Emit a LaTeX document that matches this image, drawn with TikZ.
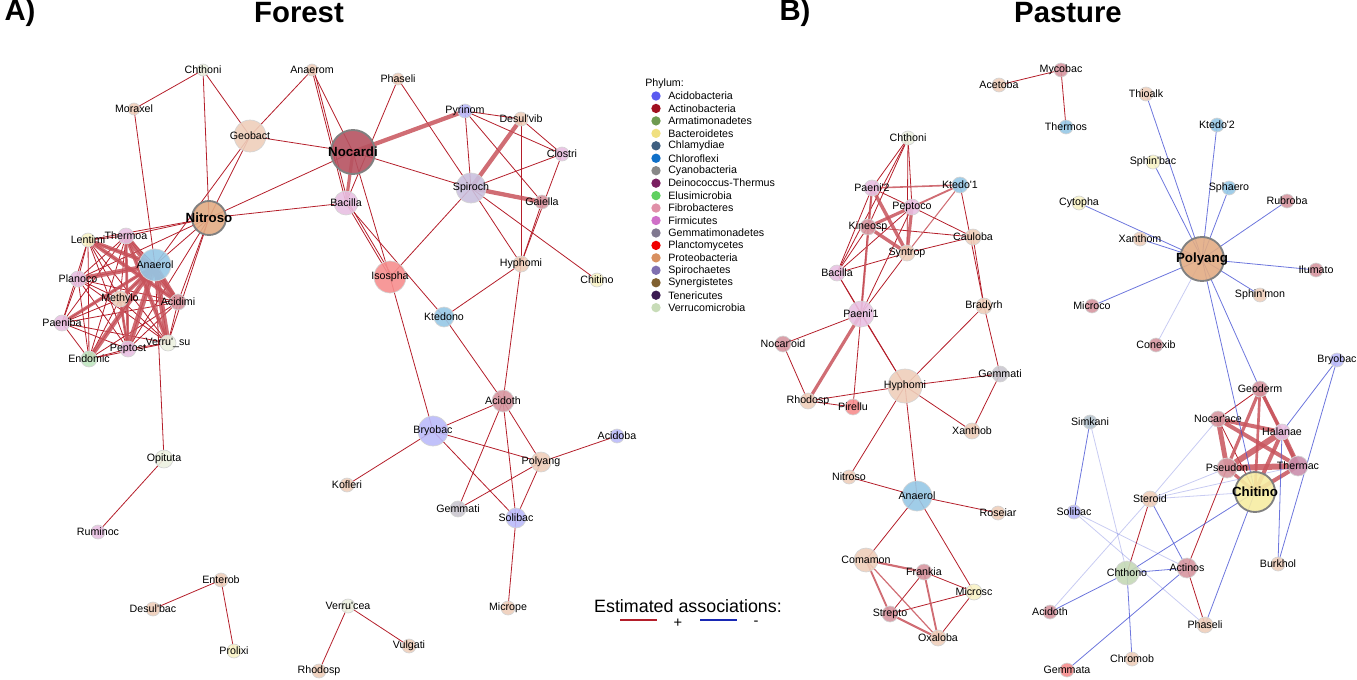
\documentclass[tikz,border=0pt]{standalone}
\usepackage{fontspec}
\setmainfont{Liberation Sans}
\pgfdeclarelayer{bg}
\pgfsetlayers{bg,main}
\newcommand{\ap}{\textquotesingle}
% node fills (light, per phylum)
\definecolor{cProteo}{RGB}{238,206,186}
\definecolor{cActino}{RGB}{214,150,160}
\definecolor{cAcido}{RGB}{186,186,250}
\definecolor{cChloro}{RGB}{150,200,230}
\definecolor{cFirmi}{RGB}{232,192,226}
\definecolor{cVerru}{RGB}{236,241,224}
\definecolor{cBactero}{RGB}{248,243,198}
\definecolor{cPlancto}{RGB}{246,142,142}
\definecolor{cGemma}{RGB}{202,199,207}
\definecolor{cSpiro}{RGB}{202,192,222}
\definecolor{cElusi}{RGB}{192,230,192}
\definecolor{cArmati}{RGB}{196,216,182}
\definecolor{cChlamy}{RGB}{182,196,206}
\definecolor{cDeino}{RGB}{202,142,172}
\definecolor{cBigProteo}{RGB}{226,172,132}
\definecolor{cBigActino}{RGB}{182,82,96}
\definecolor{cBigBactero}{RGB}{246,236,162}
% edges
\definecolor{ePos}{RGB}{180,30,42}
\definecolor{eThick}{RGB}{200,84,92}
\definecolor{eNeg}{RGB}{72,84,212}
\definecolor{eLegNeg}{RGB}{24,40,180}
\definecolor{ndline}{RGB}{212,212,212}
\definecolor{bigline}{RGB}{128,128,128}
\newcommand{\tx}[6]{\node[nd=#4,#5] (#1) at (#2,#3) {}; \node[lbl] at (#1.center) {#6};}
\newcommand{\txb}[6]{\node[nd=#4,big,#5] (#1) at (#2,#3) {}; \node[lbl,font=\fontsize{10}{12}\selectfont\bfseries] at (#1.center) {#6};}
\begin{document}
\begin{tikzpicture}[x=0.75pt,y=0.75pt,yscale=-1,xscale=1,
  nd/.style={circle,draw=ndline,line width=0.5pt,inner sep=0pt,fill opacity=0.9,minimum size={1.5pt*#1}},
  big/.style={draw=bigline,line width=1.4pt},
  lbl/.style={inner sep=0pt,font=\fontsize{8}{9}\selectfont},
  plink/.style={draw=ePos,line width=0.6pt},
  pwide/.style={draw=eThick,line width=#1,opacity=0.85},
  nlink/.style={draw=eNeg,line width=0.6pt,opacity=0.8},
  nlight/.style={draw=eNeg,line width=0.6pt,opacity=0.3}]
\useasboundingbox (0,0) rectangle (1357,679);

% Titles
\node[font=\fontsize{22}{26}\selectfont\bfseries] at (20,13) {A)};
\node[font=\fontsize{22}{26}\selectfont\bfseries] at (299,13) {Forest};
\node[font=\fontsize{22}{26}\selectfont\bfseries] at (795,13) {B)};
\node[font=\fontsize{22}{26}\selectfont\bfseries] at (1068,13) {Pasture};

%Forest nodes
\tx{fChthoni}{203}{70}{6}{fill=cVerru}{Chthoni}
\tx{fAnaerom}{312}{70}{6}{fill=cProteo}{Anaerom}
\tx{fPhaseli}{398}{79}{6}{fill=cProteo}{Phaseli}
\tx{fMoraxel}{134}{109}{6}{fill=cProteo}{Moraxel}
\tx{fGeobact}{250}{136}{16}{fill=cProteo}{Geobact}
\txb{fNocardi}{353}{152}{22}{fill=cBigActino}{Nocardi}
\tx{fPyrinom}{465}{111}{7}{fill=cAcido}{Pyrinom}
\tx{fDesulvib}{521}{119}{7}{fill=cProteo}{Desul\ap vib}
\tx{fClostri}{562}{154}{7}{fill=cFirmi}{Clostri}
\tx{fSpiroch}{471}{188}{15}{fill=cSpiro}{Spiroch}
\tx{fGaiella}{542}{202}{7}{fill=cActino}{Gaiella}
\tx{fBacilla}{346}{203}{12}{fill=cFirmi}{Bacilla}
\txb{fNitroso}{209}{218}{17}{fill=cBigProteo}{Nitroso}
\tx{fIsospha}{390}{277}{16}{fill=cPlancto}{Isospha}
\tx{fHyphomi}{521}{264}{8}{fill=cProteo}{Hyphomi}
\tx{fChitino}{597}{280}{7}{fill=cBactero}{Chitino}
\tx{fLentimi}{88}{240}{7}{fill=cBactero}{Lentimi}
\tx{fThermoa}{126}{236}{8}{fill=cFirmi}{Thermoa}
\tx{fAnaerol}{155}{265}{16}{fill=cChloro}{Anaerol}
\tx{fPlanoco}{78}{279}{8}{fill=cFirmi}{Planoco}
\tx{fMethylo}{120}{299}{8}{fill=cProteo}{Methylo}
\tx{fAcidimi}{178}{302}{8}{fill=cActino}{Acidimi}
\tx{fPaeniba}{62}{323}{8}{fill=cFirmi}{Paeniba}
\tx{fVerrusu}{168}{343}{8}{fill=cVerru}{Verru\ap\_su}
\tx{fPeptost}{128}{349}{8}{fill=cFirmi}{Peptost}
\tx{fEndomic}{89}{359}{8}{fill=cElusi}{Endomic}
\tx{fKtedono}{444}{317}{10}{fill=cChloro}{Ktedono}
\tx{fAcidoth}{503}{401}{11}{fill=cActino}{Acidoth}
\tx{fBryobac}{433}{431}{15}{fill=cAcido}{Bryobac}
\tx{fAcidoba}{617}{436}{7}{fill=cAcido}{Acidoba}
\tx{fPolyang}{541}{462}{10}{fill=cProteo}{Polyang}
\tx{fKofleri}{347}{485}{7}{fill=cProteo}{Kofleri}
\tx{fGemmati}{458}{509}{8}{fill=cGemma}{Gemmati}
\tx{fSolibac}{516}{518}{10}{fill=cAcido}{Solibac}
\tx{fMicrope}{508}{608}{7}{fill=cProteo}{Micrope}
\tx{fVerrucea}{348}{606}{7}{fill=cVerru}{Verru\ap cea}
\tx{fOpituta}{164}{459}{9}{fill=cVerru}{Opituta}
\tx{fRuminoc}{98}{532}{7}{fill=cFirmi}{Ruminoc}
\tx{fEnterob}{221}{580}{7}{fill=cProteo}{Enterob}
\tx{fDesulbac}{153}{609}{7}{fill=cProteo}{Desul\ap bac}
\tx{fProlixi}{234}{651}{7}{fill=cBactero}{Prolixi}
\tx{fRhodosp}{319}{671}{7}{fill=cProteo}{Rhodosp}
\tx{fVulgati}{409}{646}{7}{fill=cProteo}{Vulgati}

%Pasture nodes
\tx{pAcetoba}{999}{85}{7}{fill=cProteo}{Acetoba}
\tx{pMycobac}{1061}{70}{7}{fill=cActino}{Mycobac}
\tx{pThermos}{1066}{127}{7}{fill=cChloro}{Thermos}
\tx{pChthoni}{908}{138}{7}{fill=cVerru}{Chthoni}
\tx{pPaeniB}{872}{188}{8}{fill=cFirmi}{Paeni\ap2}
\tx{pKtedoA}{960}{185}{8}{fill=cChloro}{Ktedo\ap1}
\tx{pPeptoco}{912}{207}{8}{fill=cFirmi}{Peptoco}
\tx{pKineosp}{868}{227}{8}{fill=cActino}{Kineosp}
\tx{pCauloba}{973}{237}{8}{fill=cProteo}{Cauloba}
\tx{pSyntrop}{907}{253}{8}{fill=cProteo}{Syntrop}
\tx{pBacilla}{837}{273}{8}{fill=cFirmi}{Bacilla}
\tx{pBradyrh}{984}{306}{8}{fill=cProteo}{Bradyrh}
\tx{pPaeniA}{861}{314}{13}{fill=cFirmi}{Paeni\ap1}
\tx{pNocaroid}{783}{344}{8}{fill=cActino}{Nocar\ap oid}
\tx{pGemmati}{1000}{374}{8}{fill=cGemma}{Gemmati}
\tx{pHyphomi}{905}{386}{17}{fill=cProteo}{Hyphomi}
\tx{pRhodosp}{808}{401}{8}{fill=cProteo}{Rhodosp}
\tx{pPirellu}{853}{407}{8}{fill=cPlancto}{Pirellu}
\tx{pXanthob}{972}{431}{8}{fill=cProteo}{Xanthob}
\tx{pNitroso}{849}{477}{7}{fill=cProteo}{Nitroso}
\tx{pAnaerol}{917}{496}{15}{fill=cChloro}{Anaerol}
\tx{pRoseiar}{998}{513}{7}{fill=cProteo}{Roseiar}
\tx{pComamon}{866}{560}{12}{fill=cProteo}{Comamon}
\tx{pFrankia}{924}{572}{8}{fill=cActino}{Frankia}
\tx{pMicrosc}{974}{592}{8}{fill=cBactero}{Microsc}
\tx{pStrepto}{890}{614}{8}{fill=cActino}{Strepto}
\tx{pOxaloba}{938}{638}{8}{fill=cProteo}{Oxaloba}
\tx{pThioalk}{1146}{94}{7}{fill=cProteo}{Thioalk}
\tx{pKtedoB}{1217}{125}{7}{fill=cChloro}{Ktedo\ap2}
\tx{pSphinbac}{1153}{162}{7}{fill=cBactero}{Sphin\ap bac}
\tx{pSphaero}{1229}{188}{7}{fill=cChloro}{Sphaero}
\tx{pCytopha}{1079}{203}{7}{fill=cBactero}{Cytopha}
\tx{pRubroba}{1287}{201}{7}{fill=cActino}{Rubroba}
\tx{pXanthom}{1140}{239}{7}{fill=cProteo}{Xanthom}
\txb{pPolyang}{1202}{259}{22}{fill=cBigProteo}{Polyang}
\tx{pIlumato}{1316}{270}{7}{fill=cActino}{Ilumato}
\tx{pSphinmon}{1260}{295}{7}{fill=cProteo}{Sphin\ap mon}
\tx{pMicroco}{1092}{306}{7}{fill=cActino}{Microco}
\tx{pConexib}{1156}{345}{7}{fill=cActino}{Conexib}
\tx{pBryobac}{1337}{360}{7}{fill=cAcido}{Bryobac}
\tx{pGeoderm}{1260}{389}{8}{fill=cActino}{Geoderm}
\tx{pSimkani}{1090}{422}{7}{fill=cChlamy}{Simkani}
\tx{pNocarace}{1218}{419}{8}{fill=cActino}{Nocar\ap ace}
\tx{pHalanae}{1282}{432}{8}{fill=cFirmi}{Halanae}
\tx{pPseudon}{1227}{468}{10}{fill=cActino}{Pseudon}
\tx{pThermac}{1298}{466}{10}{fill=cDeino}{Thermac}
\txb{pChitino}{1255}{492}{20}{fill=cBigBactero}{Chitino}
\tx{pSteroid}{1150}{499}{8}{fill=cProteo}{Steroid}
\tx{pSolibac}{1074}{512}{7}{fill=cAcido}{Solibac}
\tx{pChthono}{1127}{573}{12}{fill=cArmati}{Chthono}
\tx{pActinos}{1187}{568}{10}{fill=cActino}{Actinos}
\tx{pBurkhol}{1278}{564}{7}{fill=cProteo}{Burkhol}
\tx{pAcidoth}{1050}{612}{7}{fill=cActino}{Acidoth}
\tx{pPhaseli}{1205}{625}{8}{fill=cProteo}{Phaseli}
\tx{pChromob}{1132}{659}{7}{fill=cProteo}{Chromob}
\tx{pGemmata}{1067}{670}{7}{fill=cPlancto}{Gemmata}

%Straight Lines
\begin{pgfonlayer}{bg}
% forest
\foreach \a/\b in {fMoraxel/fChthoni,fMoraxel/fAnaerol,fChthoni/fNitroso,fChthoni/fGeobact,fAnaerom/fGeobact,fAnaerom/fNocardi,fAnaerom/fBacilla,fGeobact/fNocardi,fGeobact/fNitroso,fGeobact/fAnaerol,fNitroso/fNocardi,fNitroso/fBacilla,fPhaseli/fBacilla,fPhaseli/fSpiroch,fNocardi/fSpiroch,fNocardi/fIsospha,fBacilla/fIsospha,fBacilla/fKtedono,fSpiroch/fIsospha,fSpiroch/fPyrinom,fSpiroch/fClostri,fSpiroch/fHyphomi,fSpiroch/fChitino,fPyrinom/fDesulvib,fPyrinom/fClostri,fPyrinom/fGaiella,fDesulvib/fClostri,fDesulvib/fHyphomi,fClostri/fHyphomi,fGaiella/fHyphomi,fHyphomi/fKtedono,fHyphomi/fAcidoth,fIsospha/fBryobac,fKtedono/fAcidoth,fAcidoth/fBryobac,fAcidoth/fPolyang,fAcidoth/fSolibac,fAcidoth/fGemmati,fBryobac/fPolyang,fBryobac/fSolibac,fBryobac/fKofleri,fPolyang/fGemmati,fPolyang/fSolibac,fPolyang/fAcidoba,fSolibac/fMicrope,fAnaerol/fOpituta,fOpituta/fRuminoc,fEnterob/fDesulbac,fEnterob/fProlixi,fVerrucea/fRhodosp,fVerrucea/fVulgati,fNitroso/fLentimi,fNitroso/fThermoa,fNitroso/fAnaerol,fNitroso/fAcidimi,fNitroso/fVerrusu,fNitroso/fPeptost,fNitroso/fPlanoco}
  \draw[plink] (\a.center) -- (\b.center);
\draw[plink] ([xshift=1.5pt]fAnaerom.center) -- ([xshift=1.5pt]fBacilla.center);
\draw[plink] ([xshift=2pt]fBacilla.center) -- ([xshift=2pt]fIsospha.center);
\foreach \a [count=\i] in {fLentimi,fThermoa,fAnaerol,fPlanoco,fMethylo,fAcidimi,fPaeniba,fVerrusu,fPeptost,fEndomic}
  \foreach \b [count=\j] in {fLentimi,fThermoa,fAnaerol,fPlanoco,fMethylo,fAcidimi,fPaeniba,fVerrusu,fPeptost,fEndomic}
    {\ifnum\j>\i \draw[plink] (\a.center) -- (\b.center); \fi}
\foreach \a/\b/\w in {fNocardi/fPyrinom/3.2pt,fNocardi/fBacilla/2.4pt,fSpiroch/fDesulvib/3.2pt,fSpiroch/fGaiella/3.2pt,fLentimi/fAnaerol/3pt,fThermoa/fAcidimi/4pt,fLentimi/fAcidimi/3pt,fThermoa/fVerrusu/3pt,fPlanoco/fAnaerol/3.5pt,fAnaerol/fPeptost/4pt,fAnaerol/fEndomic/3.5pt,fAnaerol/fVerrusu/4pt,fAnaerol/fAcidimi/3pt,fMethylo/fAnaerol/3pt,fPaeniba/fAnaerol/2.5pt,fMethylo/fPeptost/2pt,fThermoa/fPeptost/2pt}
  \draw[pwide=\w] (\a.center) -- (\b.center);
% pasture
\foreach \a/\b in {pAcetoba/pMycobac,pMycobac/pThermos,pChthoni/pPaeniB,pChthoni/pKineosp,pChthoni/pBacilla,pChthoni/pSyntrop,pChthoni/pPeptoco,pPaeniB/pPeptoco,pPaeniB/pKineosp,pPaeniB/pBacilla,pPeptoco/pBacilla,pPeptoco/pPaeniA,pPeptoco/pCauloba,pKineosp/pCauloba,pKineosp/pBacilla,pKineosp/pPaeniA,pSyntrop/pCauloba,pSyntrop/pBacilla,pSyntrop/pPaeniA,pKtedoA/pBradyrh,pCauloba/pBradyrh,pBacilla/pPaeniA,pBacilla/pHyphomi,pPaeniA/pNocaroid,pPaeniA/pPirellu,pPaeniA/pHyphomi,pNocaroid/pRhodosp,pRhodosp/pHyphomi,pRhodosp/pPirellu,pBradyrh/pHyphomi,pBradyrh/pGemmati,pGemmati/pHyphomi,pGemmati/pXanthob,pHyphomi/pXanthob,pHyphomi/pNitroso,pHyphomi/pAnaerol,pNitroso/pAnaerol,pAnaerol/pRoseiar,pAnaerol/pComamon,pAnaerol/pMicrosc,pFrankia/pMicrosc,pFrankia/pStrepto,pStrepto/pMicrosc,pMicrosc/pOxaloba,pGeoderm/pNocarace,pNocarace/pChitino,pPseudon/pActinos,pSteroid/pChthono,pActinos/pPhaseli}
  \draw[plink] (\a.center) -- (\b.center);
\foreach \a/\b/\w in {pPaeniB/pKtedoA/1.2pt,pKtedoA/pPeptoco/1.4pt,pKtedoA/pSyntrop/0.8pt,pPeptoco/pSyntrop/2.4pt,pPaeniB/pSyntrop/2.6pt,pKineosp/pPeptoco/2.4pt,pKineosp/pSyntrop/2.6pt,pPaeniB/pPaeniA/1.6pt,pPaeniA/pRhodosp/2.4pt,pComamon/pFrankia/1.6pt,pComamon/pStrepto/1.4pt,pComamon/pOxaloba/0.9pt,pFrankia/pOxaloba/1.4pt,pStrepto/pOxaloba/1.6pt,pGeoderm/pPseudon/2.4pt,pGeoderm/pChitino/2pt,pGeoderm/pHalanae/2.4pt,pGeoderm/pThermac/2.4pt,pNocarace/pHalanae/3pt,pNocarace/pThermac/3pt,pNocarace/pPseudon/3.6pt,pHalanae/pPseudon/4.5pt,pHalanae/pChitino/3pt,pHalanae/pThermac/3.6pt,pPseudon/pThermac/4.5pt,pPseudon/pChitino/2.4pt,pThermac/pChitino/3pt}
  \draw[pwide=\w] (\a.center) -- (\b.center);
\foreach \b in {pThioalk,pKtedoB,pSphinbac,pSphaero,pCytopha,pRubroba,pXanthom,pIlumato,pSphinmon,pMicroco,pChitino,pGeoderm}
  \draw[nlink] (pPolyang.center) -- (\b.center);
\foreach \a/\b in {pBryobac/pHalanae,pBryobac/pBurkhol,pHalanae/pBurkhol,pSteroid/pActinos,pSimkani/pSolibac,pChthono/pActinos,pChthono/pChitino,pChthono/pAcidoth,pChthono/pChromob,pActinos/pGemmata,pChitino/pPhaseli}
  \draw[nlink] (\a.center) -- (\b.center);
\foreach \a/\b in {pPolyang/pConexib,pSteroid/pNocarace,pSteroid/pPseudon,pSteroid/pChitino,pSteroid/pThermac,pSteroid/pAcidoth,pSimkani/pChthono,pSolibac/pActinos,pSolibac/pPhaseli}
  \draw[nlight] (\a.center) -- (\b.center);
\end{pgfonlayer}

% Legend
\node[lbl,anchor=west] at (645,84) {Phylum:};
\foreach \ra/\ga/\ba/\t [count=\i] in {90/90/240/Acidobacteria,160/16/32/Actinobacteria,110/154/80/Armatimonadetes,240/224/128/Bacteroidetes,63/95/128/Chlamydiae,16/112/200/Chloroflexi,136/136/136/Cyanobacteria,122/31/96/Deinococcus-Thermus,96/208/96/Elusimicrobia,224/144/168/Fibrobacteres,208/112/200/Firmicutes,128/120/144/Gemmatimonadetes,240/0/0/Planctomycetes,216/144/96/Proteobacteria,128/112/176/Spirochaetes,128/96/48/Synergistetes,58/26/80/Tenericutes,200/220/184/Verrucomicrobia}
{
  \definecolor{lg}{RGB}{\ra,\ga,\ba}
  \node[circle,fill=lg,inner sep=0pt,minimum size=7pt] (lg\i) at (656,{96+12.45*(\i-1)}) {};
  \node[lbl,anchor=west] at (668,{96+12.45*(\i-1)}) {\t};
}
\node[inner sep=0pt,font=\fontsize{13.4}{16}\selectfont] (assoc) at (688,606) {Estimated associations:};
\coordinate (pa) at (620,620); \coordinate (pb) at (657,620);
\coordinate (na) at (700,620); \coordinate (nb) at (737,620);
\draw[draw=ePos,line width=1.5pt] (pa) -- (pb);
\draw[draw=eLegNeg,line width=1.5pt] (na) -- (nb);
\node[inner sep=0pt,font=\fontsize{11}{13}\selectfont] (plus) at (678,623) {+};
\node[inner sep=0pt,font=\fontsize{11}{13}\selectfont] (minus) at (756,623) {-};
\end{tikzpicture}
\end{document}
